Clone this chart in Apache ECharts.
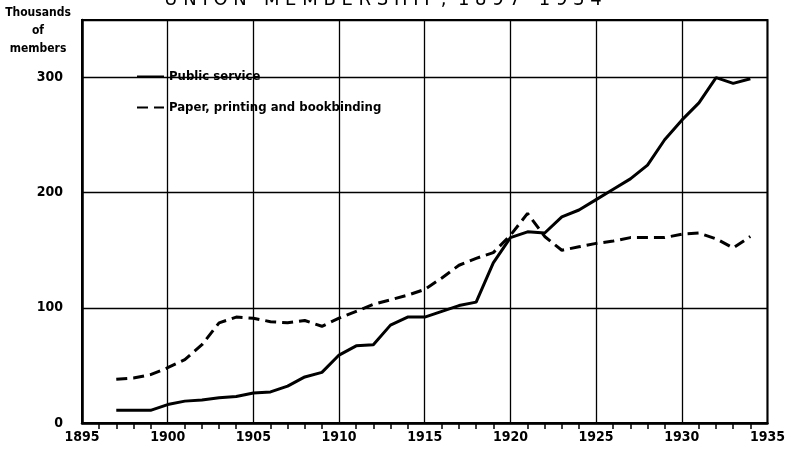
<!DOCTYPE html>
<html>
<head>
<meta charset="utf-8">
<script src="https://cdn.jsdelivr.net/npm/echarts@6/dist/echarts.min.js"></script>
<style>
  html, body { margin: 0; padding: 0; background: #fff; }
  #chart { width: 788px; height: 450px; }
</style>
</head>
<body>
<div id="chart"></div>
<script>
// data (thousands of members)
const years = [1897, 1898, 1899, 1900, 1901, 1902, 1903, 1904, 1905, 1906, 1907, 1908, 1909, 1910, 1911, 1912, 1913, 1914, 1915,
  1916, 1917, 1918, 1919, 1920, 1921, 1922, 1923, 1924, 1925, 1926, 1927, 1928, 1929, 1930, 1931, 1932, 1933, 1934]
const publicService = [11, 11, 11, 16, 19, 20, 22, 23, 26, 27, 32, 40, 44, 59, 67, 68, 85, 92, 92,
  97, 102, 105, 139, 161, 166, 165, 179, 185, 194, 203, 212, 224, 246, 263, 278, 300, 295, 299]
const paperPrinting = [38, 39, 42, 48, 55, 68, 87, 92, 91, 88, 87, 89, 84, 91, 97, 103, 107, 111, 116,
  126, 137, 143, 148, 163, 182, 162, 150, 153, 156, 158, 161, 161, 161, 164, 165, 160, 152, 162]
const yTicks = [0, 100, 200, 300]

const font = '"DejaVu Sans Condensed", "DejaVu Sans", sans-serif'

const chart = echarts.init(document.getElementById('chart'))

const option = {
  backgroundColor: '#fff',
  animation: false,
  textStyle: { fontFamily: font, color: '#000' },
  grid: {
    left: 82,
    right: 20,
    top: 20,
    bottom: 27,
    show: true,
    borderColor: '#000',
    borderWidth: 2
  },
  graphic: [
    {
      // title, cut off at the top edge as in the source
      type: 'text',
      x: 383,
      y: 10,
      style: {
        text: 'U N I O N   M E M B E R S H I P ,  1 8 9 7 - 1 9 3 4',
        font: '20px ' + font,
        fill: '#000',
        align: 'center',
        verticalAlign: 'bottom'
      }
    },
    {
      type: 'text',
      x: 38,
      y: 4,
      style: {
        text: 'Thousands\nof\nmembers',
        font: 'bold 12px ' + font,
        fill: '#000',
        align: 'center',
        lineHeight: 18
      }
    }
  ],
  legend: {
    orient: 'vertical',
    left: 131,
    top: 65,
    itemWidth: 27,
    itemHeight: 10,
    itemGap: 18,
    itemStyle: { opacity: 0 },
    textStyle: { fontFamily: font, fontWeight: 'bold', fontSize: 13, color: '#000' },
    data: ['Public service', 'Paper, printing and bookbinding']
  },
  xAxis: {
    type: 'value',
    min: 1895,
    max: 1935,
    interval: 5,
    axisLine: { lineStyle: { color: '#000', width: 2.5 } },
    axisTick: { show: false },
    minorTick: { show: true, splitNumber: 5, length: 6, lineStyle: { color: '#000', width: 1.5 } },
    axisLabel: {
      color: '#000',
      fontSize: 14,
      fontWeight: 'bold',
      margin: 7,
      formatter: v => String(v)
    },
    splitLine: { show: true, lineStyle: { color: '#000', width: 1.3 } }
  },
  yAxis: {
    type: 'value',
    min: 0,
    max: 350,
    interval: 100,
    axisLine: { show: true, lineStyle: { color: '#000', width: 2.5 } },
    axisTick: { show: false },
    axisLabel: {
      color: '#000',
      fontSize: 14,
      fontWeight: 'bold',
      margin: 19,
      formatter: v => (yTicks.indexOf(v) >= 0 ? String(v) : '')
    },
    splitLine: { show: true, lineStyle: { color: '#000', width: 1.3 } }
  },
  series: [
    {
      name: 'Public service',
      type: 'line',
      symbol: 'none',
      data: years.map((y, i) => [y, publicService[i]]),
      lineStyle: { color: '#000', width: 3 },
      itemStyle: { color: '#000' }
    },
    {
      name: 'Paper, printing and bookbinding',
      type: 'line',
      symbol: 'none',
      data: years.map((y, i) => [y, paperPrinting[i]]),
      lineStyle: { color: '#000', width: 3, type: [11, 6] },
      itemStyle: { color: '#000' }
    }
  ]
}

chart.setOption(option)
</script>
</body>
</html>
